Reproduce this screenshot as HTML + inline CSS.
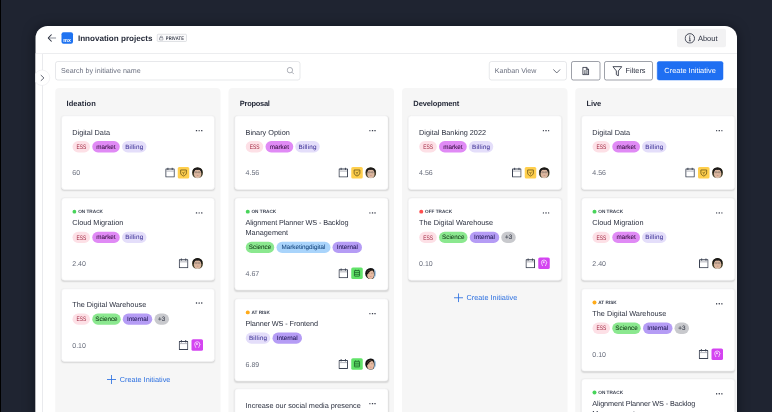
<!DOCTYPE html>
<html><head><meta charset="utf-8"><title>Innovation projects</title>
<style>
*{box-sizing:border-box;margin:0;padding:0}
html,body{width:772px;height:412px;overflow:hidden;background:#1f2431;text-rendering:geometricPrecision;font-family:"Liberation Sans",sans-serif;color:#2c3140}
.outer{position:absolute;left:0;top:0;width:772px;height:412px;overflow:hidden;will-change:transform}
.root{position:absolute;left:0;top:0;width:3088px;height:1648px;transform:scale(0.25);transform-origin:0 0;overflow:hidden;background:#1f2431}
.edge{position:absolute;left:0;top:0;width:4px;height:1648px;background:#000}
.win{box-shadow:0 4px 48px rgba(4,6,12,.5);position:absolute;left:142.4px;top:104px;width:2806px;height:1600px;background:#fff;border-radius:48px 48px 0 0;overflow:hidden}
.inner{position:absolute;left:-1.6px;top:-0.8px;width:2808px;height:1600px}
.hdr{position:absolute;left:0;top:0;width:2808px;height:111.6px;border-bottom:3.2px solid #e6e7ea}
.back{position:absolute;left:49.2px;top:33.2px;width:36px;height:32px}
.logo{position:absolute;left:105.2px;top:25.6px;width:46.4px;height:46.4px;background:#1f73f1;border-radius:8px}
.logo svg{display:block;width:46.4px;height:46.4px}
.ptitle{position:absolute;left:170.8px;top:28px;font-size:32.32px;font-weight:bold;line-height:40px;color:#262b3a;white-space:nowrap}
.priv{position:absolute;left:487.2px;top:33.2px;width:118.8px;height:30.4px;border:2.8px solid #c3c6cd;border-radius:4.8px;font-size:20.4px;font-weight:bold;line-height:26px;color:#3a3f4c;padding-left:32.8px;white-space:nowrap;background:#fbfbfc;letter-spacing:0.2px}
.priv .lk{position:absolute;left:6px;top:3.2px;width:18.4px;height:20px}
.priv .tx{position:absolute;left:32.4px;top:1.4px;width:80px;height:30.4px}
.about{position:absolute;left:2566.8px;top:12px;width:196px;height:74px;background:#f2f2f3;border-radius:8px;font-size:30px;line-height:82px;color:#2c3140;padding-left:84px}
.about svg{position:absolute;left:30.8px;top:17.2px;width:42.8px;height:42.8px}
.side{position:absolute;left:0;top:111.6px;width:30.8px;height:1520px;border-right:3.2px solid #e2e3e7;background:#fff}
.tog{position:absolute;left:-4.8px;top:176px;width:64px;height:64px;border-radius:50%;background:#fff;border:2.4px solid #e6e7ea}
.tog svg{position:absolute;left:22.4px;top:15.6px;width:19.2px;height:29.6px}
.search{position:absolute;left:80px;top:142px;width:980px;height:76px;border:2.4px solid #cfd1d6;border-radius:10px;font-size:28.6px;line-height:68px;color:#6c7180;padding-left:20.8px}
.search svg{position:absolute;right:20.4px;top:20px;width:32px;height:32px}
.sel{position:absolute;left:1815.2px;top:142px;width:310.8px;height:76px;border:2.4px solid #cfd1d6;border-radius:10px;font-size:28.4px;line-height:68px;color:#6c7180;padding-left:20.8px}
.sel svg{position:absolute;right:22px;top:28px;width:32px;height:20px}
.btn{position:absolute;top:142px;height:76px;border:2.8px solid #3d4352;border-radius:8px;font-size:28px;line-height:74.8px;color:#2c3140;background:#fff}
.btn.doc{left:2144px;width:116px}
.btn.doc svg{position:absolute;left:42.4px;top:20px;width:28px;height:34px}
.btn.fil{left:2276px;width:194.4px;padding-left:83.6px;font-size:29.2px}
.btn.fil svg{position:absolute;left:30.4px;top:16.4px;width:40.8px;height:42.8px}
.btn.pri{left:2486.8px;width:265.2px;background:#1f6ff2;border-color:#1f6ff2;color:#fff;text-align:center;font-size:29.6px}
.col{position:absolute;top:249.2px;width:661.6px;height:1440px;background:#f6f6f6;border-radius:16px}
.cname{position:absolute;left:45.2px;top:43.2px;font-size:30px;font-weight:bold;line-height:40px;color:#262b3a}
.card{position:absolute;left:23.8px;width:614.8px;background:#fff;border-radius:14px;border:2.4px solid #ececee;box-shadow:0 4px 6px rgba(0,0,0,.13)}
.ttl{position:absolute;left:42.4px;font-size:29.2px;line-height:40px;color:#2c3140;white-space:nowrap}
.dots{position:absolute;right:47.6px;width:26.4px;height:8px}
.dots i{float:left;width:5.6px;height:5.6px;border-radius:50%;background:#2c3140;margin-right:4.8px}
.dots i:last-child{margin-right:0}
.st{position:absolute;left:43.2px;top:41.2px;font-size:18.8px;font-weight:bold;line-height:24px;color:#3a4050;padding-left:22.8px;white-space:nowrap}
.st i{position:absolute;left:0;top:4.4px;width:15.6px;height:15.6px;border-radius:50%}
.st.on i{background:#48d45a}.st.off i{background:#ff4d4d}.st.risk i{background:#ffab1a}
.tags{position:absolute;left:43.4px;height:45.6px;white-space:nowrap;font-size:0}
.tag{display:inline-block;height:45.6px;border-radius:22.8px;font-size:25.2px;line-height:44.8px;-webkit-text-stroke:0.28px;padding:0;text-align:center;margin-right:8.6px;color:#2c3140;vertical-align:top}
.ess{background:#fde0e6;color:#a82a44;width:70px;font-size:24.4px;-webkit-text-stroke:0}
.ess svg{display:block;width:70px;height:45.6px}
.mkt{background:#e08af5;color:#3a1246;width:110.8px}
.bil{background:#e4defa;color:#463a9c;width:98px;letter-spacing:0.8px}
.sci{background:#8be88f;color:#17421c;width:114px}
.int{background:#b59cf5;color:#231a58;width:118px}
.more{background:#c8c9cd;color:#3a3f4c;width:58px}
.mkd{background:#a9d4fb;color:#1a4a80;width:216px}
.val{position:absolute;left:42.4px;font-size:28px;line-height:40px;color:#666b7a}
.ics{position:absolute;right:45.6px;height:48px;font-size:0;white-space:nowrap}
.ic{display:inline-block;vertical-align:top}
.cal{width:38.4px;height:40px;margin-top:3.2px;margin-right:12.4px}
.sq{width:46px;height:46px;border-radius:6.4px;margin-top:0.8px}
.sq svg{display:block;width:46px;height:46px}
.yel{background:#ffcf4d}.grn{background:#62e36a}.pur{background:#d444f1}
.av{width:44px;height:44px;border-radius:50%;overflow:hidden;margin-left:10.4px;margin-top:2px}
.ics .cal + .av{margin-left:1.8px}
.create{position:absolute;left:0;padding-left:7.2px;width:661.2px;text-align:center;font-size:29.2px;line-height:40px;color:#2b6fe0}
.create svg{display:inline-block;width:36px;height:36px;margin-right:14.4px;vertical-align:-8px}
</style></head>
<body>
<div class="outer">
<div class="root">
<div class="edge"></div>
<div class="win"><div class="inner">
<div class="hdr">
<svg class="back" viewBox="0 0 9 8"><path d="M1 4H8.6" fill="none" stroke="#8b8f9a" stroke-width="1"/><path d="M4.1 .5L.75 4 4.1 7.5" fill="none" stroke="#2c3140" stroke-width="1.05"/></svg>
<div class="logo"><svg viewBox="0 0 11.6 11.6"><text x="1.85" y="9.75" font-size="5.5" font-weight="bold" fill="#fff" textLength="7.6" lengthAdjust="spacingAndGlyphs" font-family="Liberation Sans, sans-serif">mx</text></svg></div>
<div class="ptitle">Innovation projects</div>
<div class="priv"><svg class="lk" viewBox="0 0 4 4.4"><rect x=".45" y="1.9" width="3.1" height="2.2" rx=".4" fill="none" stroke="#6a6f7c" stroke-width=".55"/><path d="M1.1 1.9V1.3a.9.9 0 011.8 0v.6" fill="none" stroke="#6a6f7c" stroke-width=".55"/></svg><svg class="tx" viewBox="0 0 20 7.6"><text x="0.3" y="5.45" font-size="5.1" font-weight="bold" fill="#3a3f4c" textLength="18.3" lengthAdjust="spacingAndGlyphs" font-family="Liberation Sans, sans-serif">PRIVATE</text></svg></div>
<div class="about"><svg viewBox="0 0 10 10"><circle cx="5" cy="5" r="4.4" fill="none" stroke="#2c3140" stroke-width=".8"/><path d="M5 4.4V7.3M4.2 4.5H5M4.1 7.3H5.9" stroke="#2c3140" stroke-width=".8" fill="none"/><circle cx="5" cy="2.9" r=".6" fill="#2c3140"/></svg>About</div>
</div>
<div class="side"></div>
<div class="tog"><svg viewBox="0 0 4.5 6.5"><path d="M.7.5L3.7 3.25.7 6" fill="none" stroke="#555a68" stroke-width=".85"/></svg></div>
<div class="search">Search by initiative name<svg viewBox="0 0 8 8"><circle cx="3.4" cy="3.4" r="2.7" fill="none" stroke="#8a8e99" stroke-width=".7"/><path d="M5.4 5.4L7.4 7.4" stroke="#8a8e99" stroke-width=".7"/></svg></div>
<div class="sel">Kanban View<svg viewBox="0 0 8 5"><path d="M.5.6L4 4.2 7.5.6" fill="none" stroke="#4a4f5c" stroke-width=".8"/></svg></div>
<div class="btn doc"><svg viewBox="0 0 7 8.5"><path d="M.55.5H4.3L6.45 2.6V8H.55Z" fill="none" stroke="#2c3140" stroke-width="1"/><path d="M4.1.5V2.8H6.4" fill="none" stroke="#2c3140" stroke-width=".8"/><rect x="1.7" y="3.7" width="3.6" height="3.3" fill="#2c3140" opacity=".85"/><path d="M1.7 4.85H5.3M1.7 5.9H5.3M3.5 3.7V7" stroke="#fff" stroke-width=".45"/></svg></div>
<div class="btn fil"><svg viewBox="0 0 9.5 10"><path d="M.6.6H8.9L5.7 4.6V9.2L3.8 8.1V4.6Z" fill="none" stroke="#2c3140" stroke-width=".8" stroke-linejoin="round"/></svg>Filters</div>
<div class="btn pri">Create Initiative</div>
<div class="col" style="left:80px"><div class="cname" style="letter-spacing:0.32px">Ideation</div><div class="card" style="top:109.6px;height:296.8px"><div class="ttl" style="top:46px">Digital Data</div><div class="dots" style="top:55.6px"><i></i><i></i><i></i></div><div class="tags" style="top:100px"><span class="tag ess"><svg viewBox="0 0 17.5 11.4"><text x="3.9" y="7.95" font-size="6.5" fill="#a02640" textLength="9.9" lengthAdjust="spacingAndGlyphs" font-family="Liberation Sans, sans-serif">ESS</text></svg></span><span class="tag mkt">market</span><span class="tag bil">Billing</span></div><div class="val" style="top:207.6px">60</div><div class="ics" style="top:202.8px"><svg class="ic cal" viewBox="0 0 10 10.4"><rect x="0.55" y="1.65" width="8.9" height="8.2" rx="0.35" fill="#fff" stroke="#3b4252" stroke-width="1.05"/><path d="M1 3.75H9" stroke="#8e929d" stroke-width=".7"/><path d="M2.75 0.1V2.5M7.25 0.1V2.5" stroke="#3b4252" stroke-width="1"/></svg><span class="ic sq yel"><svg viewBox="0 0 12 12"><path d="M3 3.1h6v3.1c0 1.6-1.4 2.6-3 3.2-1.6-.6-3-1.6-3-3.2z" fill="none" stroke="#5e4a12" stroke-width=".75"/><path d="M4.7 5.1l1.3 1.4 1.4-1.7M6 6.5v1.3" fill="none" stroke="#5e4a12" stroke-width=".65"/></svg></span><svg class="ic av" viewBox="0 0 22 22"><g><rect width="22" height="22" fill="#45402a"/><ellipse cx="11" cy="7.5" rx="9.3" ry="7.6" fill="#1d1b1a"/><ellipse cx="11.2" cy="13" rx="7.3" ry="8.8" fill="#dbb69e"/><path d="M3.6 9.6C4.6 5.4 8 4.6 11 5.6 14 4.6 17.6 5.4 18.6 9.4L18.6 4 11 1.6 3.4 4Z" fill="#1d1b1a"/><path d="M5.2 10H17" stroke="#8a7c72" stroke-width="1.1"/><circle cx="8.1" cy="10" r="1.7" fill="none" stroke="#7d7068" stroke-width=".6"/><circle cx="14.2" cy="10" r="1.7" fill="none" stroke="#7d7068" stroke-width=".6"/><ellipse cx="11.2" cy="16.2" rx="2.3" ry=".85" fill="#c48478"/><path d="M3 22C5 20.3 7.5 20.2 8.5 20.6 10 21.4 12.5 21.4 14 20.6 15.5 20.2 17.5 20.3 19.5 22Z" fill="#eadfd4"/></g></svg></div></div><div class="card" style="top:438.8px;height:330.4px"><div class="st on"><i></i>ON TRACK</div><div class="ttl" style="top:76.8px">Cloud Migration</div><div class="dots" style="top:55.6px"><i></i><i></i><i></i></div><div class="tags" style="top:133.6px"><span class="tag ess"><svg viewBox="0 0 17.5 11.4"><text x="3.9" y="7.95" font-size="6.5" fill="#a02640" textLength="9.9" lengthAdjust="spacingAndGlyphs" font-family="Liberation Sans, sans-serif">ESS</text></svg></span><span class="tag mkt">market</span><span class="tag bil">Billing</span></div><div class="val" style="top:241.2px">2.40</div><div class="ics" style="top:236.4px"><svg class="ic cal" viewBox="0 0 10 10.4"><rect x="0.55" y="1.65" width="8.9" height="8.2" rx="0.35" fill="#fff" stroke="#3b4252" stroke-width="1.05"/><path d="M1 3.75H9" stroke="#8e929d" stroke-width=".7"/><path d="M2.75 0.1V2.5M7.25 0.1V2.5" stroke="#3b4252" stroke-width="1"/></svg><svg class="ic av" viewBox="0 0 22 22"><g><rect width="22" height="22" fill="#45402a"/><ellipse cx="11" cy="7.5" rx="9.3" ry="7.6" fill="#1d1b1a"/><ellipse cx="11.2" cy="13" rx="7.3" ry="8.8" fill="#dbb69e"/><path d="M3.6 9.6C4.6 5.4 8 4.6 11 5.6 14 4.6 17.6 5.4 18.6 9.4L18.6 4 11 1.6 3.4 4Z" fill="#1d1b1a"/><path d="M5.2 10H17" stroke="#8a7c72" stroke-width="1.1"/><circle cx="8.1" cy="10" r="1.7" fill="none" stroke="#7d7068" stroke-width=".6"/><circle cx="14.2" cy="10" r="1.7" fill="none" stroke="#7d7068" stroke-width=".6"/><ellipse cx="11.2" cy="16.2" rx="2.3" ry=".85" fill="#c48478"/><path d="M3 22C5 20.3 7.5 20.2 8.5 20.6 10 21.4 12.5 21.4 14 20.6 15.5 20.2 17.5 20.3 19.5 22Z" fill="#eadfd4"/></g></svg></div></div><div class="card" style="top:802px;height:292.8px"><div class="ttl" style="top:41.52px">The Digital Warehouse</div><div class="dots" style="top:52.8px"><i></i><i></i><i></i></div><div class="tags" style="top:97.2px"><span class="tag ess"><svg viewBox="0 0 17.5 11.4"><text x="3.9" y="7.95" font-size="6.5" fill="#a02640" textLength="9.9" lengthAdjust="spacingAndGlyphs" font-family="Liberation Sans, sans-serif">ESS</text></svg></span><span class="tag sci">Science</span><span class="tag int">Internal</span><span class="tag more">+3</span></div><div class="val" style="top:204.8px">0.10</div><div class="ics" style="top:200px"><svg class="ic cal" viewBox="0 0 10 10.4"><rect x="0.55" y="1.65" width="8.9" height="8.2" rx="0.35" fill="#fff" stroke="#3b4252" stroke-width="1.05"/><path d="M1 3.75H9" stroke="#8e929d" stroke-width=".7"/><path d="M2.75 0.1V2.5M7.25 0.1V2.5" stroke="#3b4252" stroke-width="1"/></svg><span class="ic sq pur"><svg viewBox="0 0 12 12"><path d="M4.6 8.9C4.5 7.6 3.3 7 3.3 5.3a2.7 2.7 0 015.4 0C8.7 7 7.5 7.6 7.4 8.9" fill="none" stroke="#fff" stroke-width=".85" opacity=".85"/><circle cx="5.7" cy="4.9" r="1.1" fill="#fff" opacity=".75"/><path d="M8.3 6.2l.9-.9" stroke="#fff" stroke-width=".7" opacity=".7"/></svg></span></div></div><div class="create" style="top:1146.4px"><svg viewBox="0 0 8 8"><path d="M4 0V8M0 4H8" stroke="#2b6fe0" stroke-width=".75"/></svg>Create Initiative</div></div>
<div class="col" style="left:773.2px"><div class="cname" style="letter-spacing:-1.12px">Proposal</div><div class="card" style="top:109.6px;height:296.8px"><div class="ttl" style="top:46px">Binary Option</div><div class="dots" style="top:55.6px"><i></i><i></i><i></i></div><div class="tags" style="top:100px"><span class="tag ess"><svg viewBox="0 0 17.5 11.4"><text x="3.9" y="7.95" font-size="6.5" fill="#a02640" textLength="9.9" lengthAdjust="spacingAndGlyphs" font-family="Liberation Sans, sans-serif">ESS</text></svg></span><span class="tag mkt">market</span><span class="tag bil">Billing</span></div><div class="val" style="top:207.6px">4.56</div><div class="ics" style="top:202.8px"><svg class="ic cal" viewBox="0 0 10 10.4"><rect x="0.55" y="1.65" width="8.9" height="8.2" rx="0.35" fill="#fff" stroke="#3b4252" stroke-width="1.05"/><path d="M1 3.75H9" stroke="#8e929d" stroke-width=".7"/><path d="M2.75 0.1V2.5M7.25 0.1V2.5" stroke="#3b4252" stroke-width="1"/></svg><span class="ic sq yel"><svg viewBox="0 0 12 12"><path d="M3 3.1h6v3.1c0 1.6-1.4 2.6-3 3.2-1.6-.6-3-1.6-3-3.2z" fill="none" stroke="#5e4a12" stroke-width=".75"/><path d="M4.7 5.1l1.3 1.4 1.4-1.7M6 6.5v1.3" fill="none" stroke="#5e4a12" stroke-width=".65"/></svg></span><svg class="ic av" viewBox="0 0 22 22"><g><rect width="22" height="22" fill="#45402a"/><ellipse cx="11" cy="7.5" rx="9.3" ry="7.6" fill="#1d1b1a"/><ellipse cx="11.2" cy="13" rx="7.3" ry="8.8" fill="#dbb69e"/><path d="M3.6 9.6C4.6 5.4 8 4.6 11 5.6 14 4.6 17.6 5.4 18.6 9.4L18.6 4 11 1.6 3.4 4Z" fill="#1d1b1a"/><path d="M5.2 10H17" stroke="#8a7c72" stroke-width="1.1"/><circle cx="8.1" cy="10" r="1.7" fill="none" stroke="#7d7068" stroke-width=".6"/><circle cx="14.2" cy="10" r="1.7" fill="none" stroke="#7d7068" stroke-width=".6"/><ellipse cx="11.2" cy="16.2" rx="2.3" ry=".85" fill="#c48478"/><path d="M3 22C5 20.3 7.5 20.2 8.5 20.6 10 21.4 12.5 21.4 14 20.6 15.5 20.2 17.5 20.3 19.5 22Z" fill="#eadfd4"/></g></svg></div></div><div class="card" style="top:438.8px;height:370px"><div class="st on"><i></i>ON TRACK</div><div class="ttl" style="top:76.8px"><span style="letter-spacing:-0.4px">Alignment Planner WS - Backlog</span><br>Management</div><div class="dots" style="top:55.6px"><i></i><i></i><i></i></div><div class="tags" style="top:173.6px"><span class="tag sci">Science</span><span class="tag mkd">Marketingdigital</span><span class="tag int">Internal</span></div><div class="val" style="top:281.2px">4.67</div><div class="ics" style="top:276.4px"><svg class="ic cal" viewBox="0 0 10 10.4"><rect x="0.55" y="1.65" width="8.9" height="8.2" rx="0.35" fill="#fff" stroke="#3b4252" stroke-width="1.05"/><path d="M1 3.75H9" stroke="#8e929d" stroke-width=".7"/><path d="M2.75 0.1V2.5M7.25 0.1V2.5" stroke="#3b4252" stroke-width="1"/></svg><span class="ic sq grn"><svg viewBox="0 0 12 12"><rect x="3.35" y="3.2" width="5.3" height="5.8" rx=".3" fill="none" stroke="#1c6428" stroke-width=".85"/><path d="M3.4 5.15H8.6M3.4 7.1H8.6" stroke="#1c6428" stroke-width=".8"/><path d="M4.5 2.3V3.2M7.5 2.3V3.2" stroke="#1c6428" stroke-width=".7"/></svg></span><svg class="ic av" viewBox="0 0 22 22"><g><rect width="22" height="22" fill="#a9cbe8"/><path d="M-1 -1H15C18 3 19 9 18.2 15L16 23H-1Z" fill="#17120f"/><ellipse cx="10.6" cy="13.2" rx="6.9" ry="9" fill="#e6bba2"/><path d="M3.2 12C3.6 5.6 9 3.2 14.5 4.6 11.5 6 7.2 7.4 5 13Z" fill="#17120f"/><path d="M6.8 10.4h2.6M12 10.4h2.6" stroke="#7a5648" stroke-width=".9"/><ellipse cx="11" cy="17.2" rx="2.1" ry=".95" fill="#cf7f86"/></g></svg></div></div><div class="card" style="top:841.6px;height:331.2px"><div class="st risk"><i></i>AT RISK</div><div class="ttl" style="top:76.8px"><span style="letter-spacing:-0.44px">Planner WS - Frontend</span></div><div class="dots" style="top:55.6px"><i></i><i></i><i></i></div><div class="tags" style="top:133.6px"><span class="tag bil">Billing</span><span class="tag int">Internal</span></div><div class="val" style="top:241.2px">6.89</div><div class="ics" style="top:236.4px"><svg class="ic cal" viewBox="0 0 10 10.4"><rect x="0.55" y="1.65" width="8.9" height="8.2" rx="0.35" fill="#fff" stroke="#3b4252" stroke-width="1.05"/><path d="M1 3.75H9" stroke="#8e929d" stroke-width=".7"/><path d="M2.75 0.1V2.5M7.25 0.1V2.5" stroke="#3b4252" stroke-width="1"/></svg><span class="ic sq grn"><svg viewBox="0 0 12 12"><rect x="3.35" y="3.2" width="5.3" height="5.8" rx=".3" fill="none" stroke="#1c6428" stroke-width=".85"/><path d="M3.4 5.15H8.6M3.4 7.1H8.6" stroke="#1c6428" stroke-width=".8"/><path d="M4.5 2.3V3.2M7.5 2.3V3.2" stroke="#1c6428" stroke-width=".7"/></svg></span><svg class="ic av" viewBox="0 0 22 22"><g><rect width="22" height="22" fill="#a9cbe8"/><path d="M-1 -1H15C18 3 19 9 18.2 15L16 23H-1Z" fill="#17120f"/><ellipse cx="10.6" cy="13.2" rx="6.9" ry="9" fill="#e6bba2"/><path d="M3.2 12C3.6 5.6 9 3.2 14.5 4.6 11.5 6 7.2 7.4 5 13Z" fill="#17120f"/><path d="M6.8 10.4h2.6M12 10.4h2.6" stroke="#7a5648" stroke-width=".9"/><ellipse cx="11" cy="17.2" rx="2.1" ry=".95" fill="#cf7f86"/></g></svg></div></div><div class="card" style="top:1201.6px;height:296px"><div class="ttl" style="top:46px">Increase our social media presence</div><div class="dots" style="top:55.6px"><i></i><i></i><i></i></div></div></div>
<div class="col" style="left:1467.4px"><div class="cname" style="letter-spacing:-0.48px">Development</div><div class="card" style="top:109.6px;height:296.8px"><div class="ttl" style="top:46px">Digital Banking 2022</div><div class="dots" style="top:55.6px"><i></i><i></i><i></i></div><div class="tags" style="top:100px"><span class="tag ess"><svg viewBox="0 0 17.5 11.4"><text x="3.9" y="7.95" font-size="6.5" fill="#a02640" textLength="9.9" lengthAdjust="spacingAndGlyphs" font-family="Liberation Sans, sans-serif">ESS</text></svg></span><span class="tag mkt">market</span><span class="tag bil">Billing</span></div><div class="val" style="top:207.6px">4.56</div><div class="ics" style="top:202.8px"><svg class="ic cal" viewBox="0 0 10 10.4"><rect x="0.55" y="1.65" width="8.9" height="8.2" rx="0.35" fill="#fff" stroke="#3b4252" stroke-width="1.05"/><path d="M1 3.75H9" stroke="#8e929d" stroke-width=".7"/><path d="M2.75 0.1V2.5M7.25 0.1V2.5" stroke="#3b4252" stroke-width="1"/></svg><span class="ic sq yel"><svg viewBox="0 0 12 12"><path d="M3 3.1h6v3.1c0 1.6-1.4 2.6-3 3.2-1.6-.6-3-1.6-3-3.2z" fill="none" stroke="#5e4a12" stroke-width=".75"/><path d="M4.7 5.1l1.3 1.4 1.4-1.7M6 6.5v1.3" fill="none" stroke="#5e4a12" stroke-width=".65"/></svg></span><svg class="ic av" viewBox="0 0 22 22"><g><rect width="22" height="22" fill="#45402a"/><ellipse cx="11" cy="7.5" rx="9.3" ry="7.6" fill="#1d1b1a"/><ellipse cx="11.2" cy="13" rx="7.3" ry="8.8" fill="#dbb69e"/><path d="M3.6 9.6C4.6 5.4 8 4.6 11 5.6 14 4.6 17.6 5.4 18.6 9.4L18.6 4 11 1.6 3.4 4Z" fill="#1d1b1a"/><path d="M5.2 10H17" stroke="#8a7c72" stroke-width="1.1"/><circle cx="8.1" cy="10" r="1.7" fill="none" stroke="#7d7068" stroke-width=".6"/><circle cx="14.2" cy="10" r="1.7" fill="none" stroke="#7d7068" stroke-width=".6"/><ellipse cx="11.2" cy="16.2" rx="2.3" ry=".85" fill="#c48478"/><path d="M3 22C5 20.3 7.5 20.2 8.5 20.6 10 21.4 12.5 21.4 14 20.6 15.5 20.2 17.5 20.3 19.5 22Z" fill="#eadfd4"/></g></svg></div></div><div class="card" style="top:438.8px;height:330.4px"><div class="st off"><i></i>OFF TRACK</div><div class="ttl" style="top:76.8px">The Digital Warehouse</div><div class="dots" style="top:55.6px"><i></i><i></i><i></i></div><div class="tags" style="top:133.6px"><span class="tag ess"><svg viewBox="0 0 17.5 11.4"><text x="3.9" y="7.95" font-size="6.5" fill="#a02640" textLength="9.9" lengthAdjust="spacingAndGlyphs" font-family="Liberation Sans, sans-serif">ESS</text></svg></span><span class="tag sci">Science</span><span class="tag int">Internal</span><span class="tag more">+3</span></div><div class="val" style="top:241.2px">0.10</div><div class="ics" style="top:236.4px"><svg class="ic cal" viewBox="0 0 10 10.4"><rect x="0.55" y="1.65" width="8.9" height="8.2" rx="0.35" fill="#fff" stroke="#3b4252" stroke-width="1.05"/><path d="M1 3.75H9" stroke="#8e929d" stroke-width=".7"/><path d="M2.75 0.1V2.5M7.25 0.1V2.5" stroke="#3b4252" stroke-width="1"/></svg><span class="ic sq pur"><svg viewBox="0 0 12 12"><path d="M4.6 8.9C4.5 7.6 3.3 7 3.3 5.3a2.7 2.7 0 015.4 0C8.7 7 7.5 7.6 7.4 8.9" fill="none" stroke="#fff" stroke-width=".85" opacity=".85"/><circle cx="5.7" cy="4.9" r="1.1" fill="#fff" opacity=".75"/><path d="M8.3 6.2l.9-.9" stroke="#fff" stroke-width=".7" opacity=".7"/></svg></span></div></div><div class="create" style="top:820px"><svg viewBox="0 0 8 8"><path d="M4 0V8M0 4H8" stroke="#2b6fe0" stroke-width=".75"/></svg>Create Initiative</div></div>
<div class="col" style="left:2160.4px"><div class="cname" style="letter-spacing:-0.6px">Live</div><div class="card" style="top:109.6px;height:296.8px"><div class="ttl" style="top:46px">Digital Data</div><div class="dots" style="top:55.6px"><i></i><i></i><i></i></div><div class="tags" style="top:100px"><span class="tag ess"><svg viewBox="0 0 17.5 11.4"><text x="3.9" y="7.95" font-size="6.5" fill="#a02640" textLength="9.9" lengthAdjust="spacingAndGlyphs" font-family="Liberation Sans, sans-serif">ESS</text></svg></span><span class="tag mkt">market</span><span class="tag bil">Billing</span></div><div class="val" style="top:207.6px">4.56</div><div class="ics" style="top:202.8px"><svg class="ic cal" viewBox="0 0 10 10.4"><rect x="0.55" y="1.65" width="8.9" height="8.2" rx="0.35" fill="#fff" stroke="#3b4252" stroke-width="1.05"/><path d="M1 3.75H9" stroke="#8e929d" stroke-width=".7"/><path d="M2.75 0.1V2.5M7.25 0.1V2.5" stroke="#3b4252" stroke-width="1"/></svg><span class="ic sq yel"><svg viewBox="0 0 12 12"><path d="M3 3.1h6v3.1c0 1.6-1.4 2.6-3 3.2-1.6-.6-3-1.6-3-3.2z" fill="none" stroke="#5e4a12" stroke-width=".75"/><path d="M4.7 5.1l1.3 1.4 1.4-1.7M6 6.5v1.3" fill="none" stroke="#5e4a12" stroke-width=".65"/></svg></span><svg class="ic av" viewBox="0 0 22 22"><g><rect width="22" height="22" fill="#45402a"/><ellipse cx="11" cy="7.5" rx="9.3" ry="7.6" fill="#1d1b1a"/><ellipse cx="11.2" cy="13" rx="7.3" ry="8.8" fill="#dbb69e"/><path d="M3.6 9.6C4.6 5.4 8 4.6 11 5.6 14 4.6 17.6 5.4 18.6 9.4L18.6 4 11 1.6 3.4 4Z" fill="#1d1b1a"/><path d="M5.2 10H17" stroke="#8a7c72" stroke-width="1.1"/><circle cx="8.1" cy="10" r="1.7" fill="none" stroke="#7d7068" stroke-width=".6"/><circle cx="14.2" cy="10" r="1.7" fill="none" stroke="#7d7068" stroke-width=".6"/><ellipse cx="11.2" cy="16.2" rx="2.3" ry=".85" fill="#c48478"/><path d="M3 22C5 20.3 7.5 20.2 8.5 20.6 10 21.4 12.5 21.4 14 20.6 15.5 20.2 17.5 20.3 19.5 22Z" fill="#eadfd4"/></g></svg></div></div><div class="card" style="top:438.8px;height:330.4px"><div class="st on"><i></i>ON TRACK</div><div class="ttl" style="top:76.8px">Cloud Migration</div><div class="dots" style="top:55.6px"><i></i><i></i><i></i></div><div class="tags" style="top:133.6px"><span class="tag ess"><svg viewBox="0 0 17.5 11.4"><text x="3.9" y="7.95" font-size="6.5" fill="#a02640" textLength="9.9" lengthAdjust="spacingAndGlyphs" font-family="Liberation Sans, sans-serif">ESS</text></svg></span><span class="tag mkt">market</span><span class="tag bil">Billing</span></div><div class="val" style="top:241.2px">2.40</div><div class="ics" style="top:236.4px"><svg class="ic cal" viewBox="0 0 10 10.4"><rect x="0.55" y="1.65" width="8.9" height="8.2" rx="0.35" fill="#fff" stroke="#3b4252" stroke-width="1.05"/><path d="M1 3.75H9" stroke="#8e929d" stroke-width=".7"/><path d="M2.75 0.1V2.5M7.25 0.1V2.5" stroke="#3b4252" stroke-width="1"/></svg><svg class="ic av" viewBox="0 0 22 22"><g><rect width="22" height="22" fill="#45402a"/><ellipse cx="11" cy="7.5" rx="9.3" ry="7.6" fill="#1d1b1a"/><ellipse cx="11.2" cy="13" rx="7.3" ry="8.8" fill="#dbb69e"/><path d="M3.6 9.6C4.6 5.4 8 4.6 11 5.6 14 4.6 17.6 5.4 18.6 9.4L18.6 4 11 1.6 3.4 4Z" fill="#1d1b1a"/><path d="M5.2 10H17" stroke="#8a7c72" stroke-width="1.1"/><circle cx="8.1" cy="10" r="1.7" fill="none" stroke="#7d7068" stroke-width=".6"/><circle cx="14.2" cy="10" r="1.7" fill="none" stroke="#7d7068" stroke-width=".6"/><ellipse cx="11.2" cy="16.2" rx="2.3" ry=".85" fill="#c48478"/><path d="M3 22C5 20.3 7.5 20.2 8.5 20.6 10 21.4 12.5 21.4 14 20.6 15.5 20.2 17.5 20.3 19.5 22Z" fill="#eadfd4"/></g></svg></div></div><div class="card" style="top:802px;height:330.8px"><div class="st risk"><i></i>AT RISK</div><div class="ttl" style="top:76.8px">The Digital Warehouse</div><div class="dots" style="top:55.6px"><i></i><i></i><i></i></div><div class="tags" style="top:133.6px"><span class="tag ess"><svg viewBox="0 0 17.5 11.4"><text x="3.9" y="7.95" font-size="6.5" fill="#a02640" textLength="9.9" lengthAdjust="spacingAndGlyphs" font-family="Liberation Sans, sans-serif">ESS</text></svg></span><span class="tag sci">Science</span><span class="tag int">Internal</span><span class="tag more">+3</span></div><div class="val" style="top:241.2px">0.10</div><div class="ics" style="top:236.4px"><svg class="ic cal" viewBox="0 0 10 10.4"><rect x="0.55" y="1.65" width="8.9" height="8.2" rx="0.35" fill="#fff" stroke="#3b4252" stroke-width="1.05"/><path d="M1 3.75H9" stroke="#8e929d" stroke-width=".7"/><path d="M2.75 0.1V2.5M7.25 0.1V2.5" stroke="#3b4252" stroke-width="1"/></svg><span class="ic sq pur"><svg viewBox="0 0 12 12"><path d="M4.6 8.9C4.5 7.6 3.3 7 3.3 5.3a2.7 2.7 0 015.4 0C8.7 7 7.5 7.6 7.4 8.9" fill="none" stroke="#fff" stroke-width=".85" opacity=".85"/><circle cx="5.7" cy="4.9" r="1.1" fill="#fff" opacity=".75"/><path d="M8.3 6.2l.9-.9" stroke="#fff" stroke-width=".7" opacity=".7"/></svg></span></div></div><div class="card" style="top:1162.4px;height:370px"><div class="st on"><i></i>ON TRACK</div><div class="ttl" style="top:76.8px"><span style="letter-spacing:-0.4px">Alignment Planner WS - Backlog</span><br>Management</div><div class="dots" style="top:55.6px"><i></i><i></i><i></i></div><div class="tags" style="top:173.6px"><span class="tag sci">Science</span><span class="tag mkd">Marketingdigital</span><span class="tag int">Internal</span></div><div class="val" style="top:281.2px">4.67</div><div class="ics" style="top:276.4px"><svg class="ic cal" viewBox="0 0 10 10.4"><rect x="0.55" y="1.65" width="8.9" height="8.2" rx="0.35" fill="#fff" stroke="#3b4252" stroke-width="1.05"/><path d="M1 3.75H9" stroke="#8e929d" stroke-width=".7"/><path d="M2.75 0.1V2.5M7.25 0.1V2.5" stroke="#3b4252" stroke-width="1"/></svg><span class="ic sq grn"><svg viewBox="0 0 12 12"><rect x="3.35" y="3.2" width="5.3" height="5.8" rx=".3" fill="none" stroke="#1c6428" stroke-width=".85"/><path d="M3.4 5.15H8.6M3.4 7.1H8.6" stroke="#1c6428" stroke-width=".8"/><path d="M4.5 2.3V3.2M7.5 2.3V3.2" stroke="#1c6428" stroke-width=".7"/></svg></span><svg class="ic av" viewBox="0 0 22 22"><g><rect width="22" height="22" fill="#a9cbe8"/><path d="M-1 -1H15C18 3 19 9 18.2 15L16 23H-1Z" fill="#17120f"/><ellipse cx="10.6" cy="13.2" rx="6.9" ry="9" fill="#e6bba2"/><path d="M3.2 12C3.6 5.6 9 3.2 14.5 4.6 11.5 6 7.2 7.4 5 13Z" fill="#17120f"/><path d="M6.8 10.4h2.6M12 10.4h2.6" stroke="#7a5648" stroke-width=".9"/><ellipse cx="11" cy="17.2" rx="2.1" ry=".95" fill="#cf7f86"/></g></svg></div></div></div>
</div></div>
</div>
</div>
</body></html>
